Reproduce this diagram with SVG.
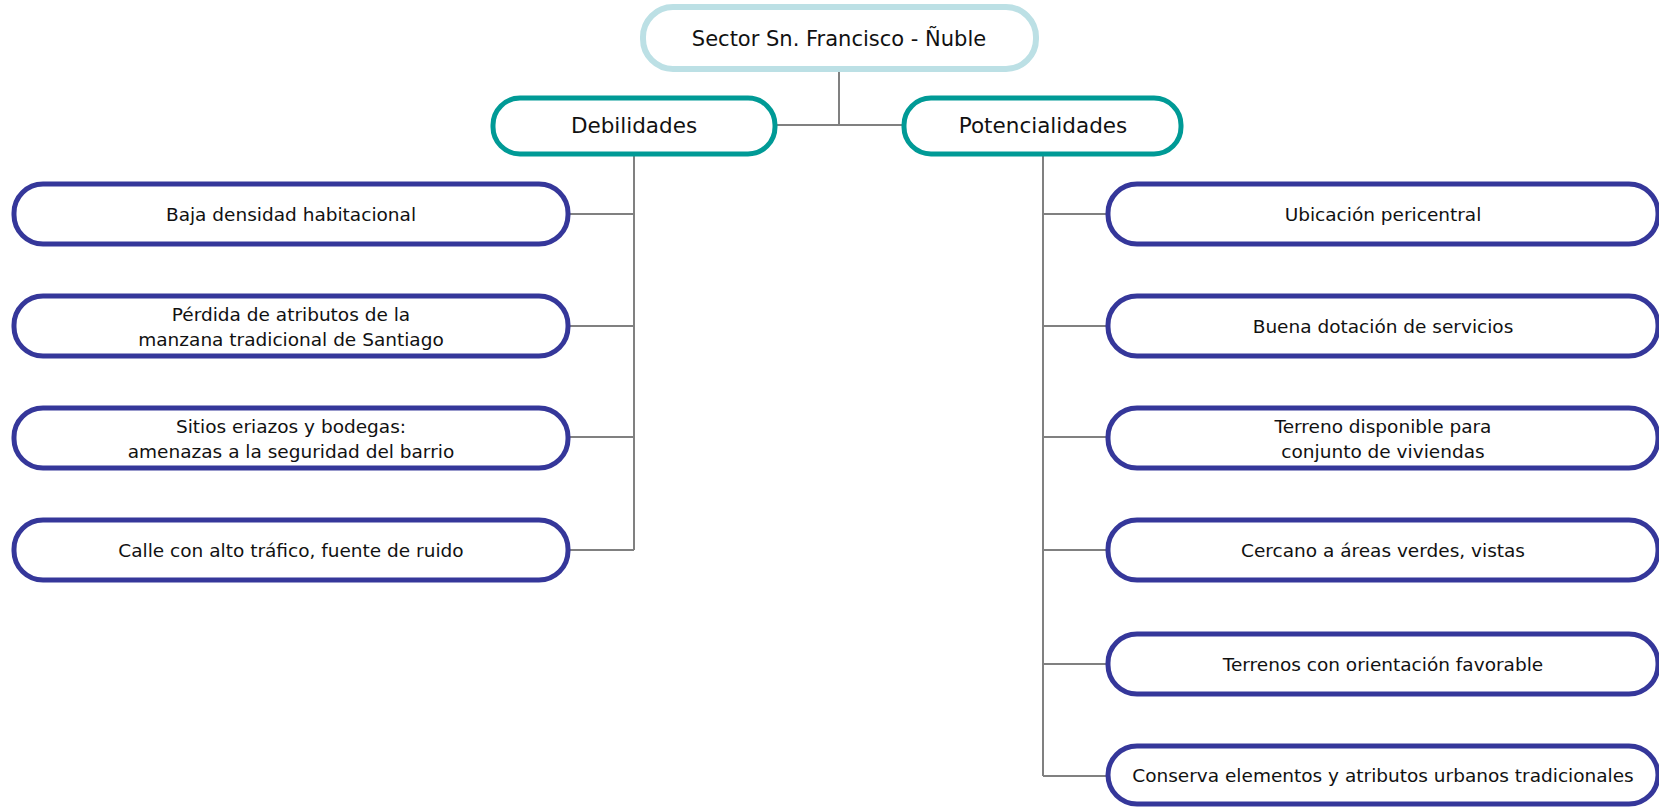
<svg xmlns="http://www.w3.org/2000/svg" width="1659" height="807" viewBox="0 0 1659 807">
  <style>
    .root { fill: #ffffff; stroke: #bce0e5; stroke-width: 6; }
    .cat { fill: #ffffff; stroke: #009a96; stroke-width: 5; }
    .item { fill: #ffffff; stroke: #35379a; stroke-width: 5; }
    .lbl { font-family: "DejaVu Sans", "Liberation Sans", sans-serif; font-size: 18.5px; fill: #111111; text-anchor: middle; }
    .big { font-size: 21px; }
    .mid { font-size: 21.5px; }
    .edge { fill: none; stroke: #808080; stroke-width: 2; }
  </style>
  <rect width="1659" height="807" fill="#ffffff"/>

  <!-- connectors -->
  <g id="connectors">
    <path class="edge" d="M839 70 V125 M776 125 H903"/>
    <path class="edge" d="M634 155 V550 M569 214 H634 M569 326 H634 M569 437 H634 M569 550 H634"/>
    <path class="edge" d="M1043 155 V776 M1043 214 H1107 M1043 326 H1107 M1043 437 H1107 M1043 550 H1107 M1043 664 H1107 M1043 776 H1107"/>
  </g>

  <!-- root -->
  <g id="root">
    <rect class="root" x="643" y="7" width="393" height="62" rx="30"/>
    <text class="lbl big" x="839" y="46">Sector Sn. Francisco - Ñuble</text>
  </g>

  <!-- categories -->
  <g id="debilidades">
    <rect class="cat" x="493" y="98" width="282" height="56" rx="27"/>
    <text class="lbl mid" x="634" y="133">Debilidades</text>
  </g>
  <g id="potencialidades">
    <rect class="cat" x="904" y="98" width="277" height="56" rx="27"/>
    <text class="lbl mid" x="1043" y="133">Potencialidades</text>
  </g>

  <!-- weaknesses -->
  <g id="d1">
    <rect class="item" x="14" y="184" width="554" height="60" rx="29"/>
    <text class="lbl" x="291" y="221">Baja densidad habitacional</text>
  </g>
  <g id="d2">
    <rect class="item" x="14" y="296" width="554" height="60" rx="29"/>
    <text class="lbl" x="291" y="321">Pérdida de atributos de la</text>
    <text class="lbl" x="291" y="346">manzana tradicional de Santiago</text>
  </g>
  <g id="d3">
    <rect class="item" x="14" y="408" width="554" height="60" rx="29"/>
    <text class="lbl" x="291" y="433">Sitios eriazos y bodegas:</text>
    <text class="lbl" x="291" y="458">amenazas a la seguridad del barrio</text>
  </g>
  <g id="d4">
    <rect class="item" x="14" y="520" width="554" height="60" rx="29"/>
    <text class="lbl" x="291" y="557">Calle con alto tráfico, fuente de ruido</text>
  </g>

  <!-- strengths -->
  <g id="p1">
    <rect class="item" x="1108" y="184" width="550" height="60" rx="29"/>
    <text class="lbl" x="1383" y="221">Ubicación pericentral</text>
  </g>
  <g id="p2">
    <rect class="item" x="1108" y="296" width="550" height="60" rx="29"/>
    <text class="lbl" x="1383" y="333">Buena dotación de servicios</text>
  </g>
  <g id="p3">
    <rect class="item" x="1108" y="408" width="550" height="60" rx="29"/>
    <text class="lbl" x="1383" y="433">Terreno disponible para</text>
    <text class="lbl" x="1383" y="458">conjunto de viviendas</text>
  </g>
  <g id="p4">
    <rect class="item" x="1108" y="520" width="550" height="60" rx="29"/>
    <text class="lbl" x="1383" y="557">Cercano a áreas verdes, vistas</text>
  </g>
  <g id="p5">
    <rect class="item" x="1108" y="634" width="550" height="60" rx="29"/>
    <text class="lbl" x="1383" y="671">Terrenos con orientación favorable</text>
  </g>
  <g id="p6">
    <rect class="item" x="1108" y="746" width="550" height="58" rx="29"/>
    <text class="lbl" x="1383" y="782">Conserva elementos y atributos urbanos tradicionales</text>
  </g>
</svg>
